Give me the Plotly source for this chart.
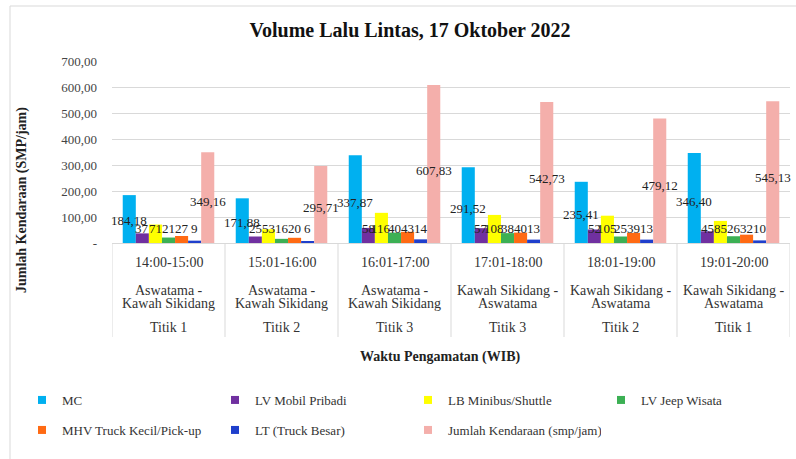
import plotly.graph_objects as go

# ---- data ----
time_labels = ["14:00-15:00", "15:01-16:00", "16:01-17:00", "17:01-18:00", "18:01-19:00", "19:01-20:00"]
route_line1 = ["Aswatama -", "Aswatama -", "Aswatama -", "Kawah Sikidang -", "Kawah Sikidang -", "Kawah Sikidang -"]
route_line2 = ["Kawah Sikidang", "Kawah Sikidang", "Kawah Sikidang", "Aswatama", "Aswatama", "Aswatama"]
titik_labels = ["Titik 1", "Titik 2", "Titik 3", "Titik 3", "Titik 2", "Titik 1"]

mc = [184.18, 171.88, 337.87, 291.52, 235.41, 346.40]
lv_mobil = [37, 25, 58, 57, 52, 45]
lb_minibus = [71, 53, 116, 108, 105, 85]
lv_jeep = [21, 16, 40, 38, 25, 26]
mhv_truck = [27, 20, 43, 40, 39, 32]
lt_truck = [9, 6, 14, 13, 13, 10]
jumlah = [349.16, 295.71, 607.83, 542.73, 479.12, 545.13]

y_ticks = [0, 100, 200, 300, 400, 500, 600, 700]

series_names = ["MC", "LV Mobil Pribadi", "LB Minibus/Shuttle", "LV Jeep Wisata",
                "MHV Truck Kecil/Pick-up", "LT (Truck Besar)", "Jumlah Kendaraan (smp/jam)"]
series_vals = [mc, lv_mobil, lb_minibus, lv_jeep, mhv_truck, lt_truck, jumlah]
colors = ["#00B0F0", "#7030A0", "#FFFF00", "#3CB054", "#FF6A13", "#1F3FCC", "#F4AFAB"]
legend_slots = ["legend", "legend", "legend", "legend3", "legend2", "legend2", "legend2"]

FONT = "Liberation Serif"
W, H = 796, 459
L, R, T, B = 112, 6, 61, 216
pw = W - L - R
ph = H - T - B

def px_x(px):
    return (px - L) / pw

def px_y(py):
    return (H - B - py) / ph

def fmt(v):
    return ("%.2f" % v).replace(".", ",")

x_idx = list(range(len(time_labels)))
bargap = 0.19
nser = len(series_names)
bw = (1 - bargap) / nser

fig = go.Figure()
annotations = []
for i, (name, vals, col) in enumerate(zip(series_names, series_vals, colors)):
    big = name in ("MC", "Jumlah Kendaraan (smp/jam)")
    fig.add_trace(go.Bar(x=x_idx, y=vals, name=name, showlegend=False,
                         marker=dict(color=col, line=dict(width=0))))
    # legend entry (small square)
    fig.add_trace(go.Scatter(x=[None], y=[None], mode="markers", name=name,
                             marker=dict(symbol="square", size=8, color=col),
                             legend=legend_slots[i]))
    for k, v in zip(x_idx, vals):
        xc = k + (i - (nser - 1) / 2) * bw
        if big:
            annotations.append(dict(x=xc, y=v * 0.46, xref="x", yref="y", text=fmt(v),
                                    showarrow=False, font=dict(family=FONT, size=13, color="#222")))
        else:
            annotations.append(dict(x=xc, y=0, xref="x", yref="y", text=str(int(v)),
                                    yanchor="bottom", yshift=5, showarrow=False,
                                    font=dict(family=FONT, size=13, color="#222")))

shapes = []
for k in range(len(time_labels) + 1):
    shapes.append(dict(type="line", xref="x", yref="paper", x0=k - 0.5, x1=k - 0.5,
                       y0=0, y1=px_y(337), line=dict(color="#D9D9D9", width=1)))
shapes.append(dict(type="line", xref="paper", yref="paper", x0=px_x(10), x1=px_x(10),
                   y0=px_y(6), y1=px_y(470), line=dict(color="#D9D9D9", width=1)))
shapes.append(dict(type="line", xref="paper", yref="paper", x0=px_x(10), x1=px_x(800),
                   y0=px_y(6), y1=px_y(6), line=dict(color="#D9D9D9", width=1)))

cat_font = dict(family=FONT, size=14, color="#333")
for k in x_idx:
    for text, ypx in ((time_labels[k], 262), (route_line1[k], 290), (route_line2[k], 303), (titik_labels[k], 327)):
        annotations.append(dict(x=k, y=px_y(ypx), xref="x", yref="paper", text=text,
                                yanchor="middle", showarrow=False, font=cat_font))
annotations.append(dict(x=px_x(440), y=px_y(357), xref="paper", yref="paper",
                        text="<b>Waktu Pengamatan (WIB)</b>", showarrow=False, yanchor="middle",
                        font=dict(family=FONT, size=14, color="#222")))
annotations.append(dict(x=px_x(22), y=px_y(200), xref="paper", yref="paper",
                        text="<b>Jumlah Kendaraan (SMP/jam)</b>", showarrow=False, textangle=-90,
                        xanchor="center", yanchor="middle",
                        font=dict(family=FONT, size=14, color="#222")))

leg_common = dict(orientation="h", xanchor="left", yanchor="middle",
                  xref="container", yref="container",
                  entrywidth=148, entrywidthmode="pixels", itemwidth=30,
                  font=dict(family=FONT, size=13, color="#333"), bgcolor="rgba(0,0,0,0)")

fig.update_layout(
    width=W, height=H,
    margin=dict(l=L, r=R, t=T, b=B, autoexpand=False),
    paper_bgcolor="white", plot_bgcolor="white",
    barmode="group", bargap=bargap, bargroupgap=0,
    font=dict(family=FONT, size=13, color="#333"),
    title=dict(text="<b>Volume Lalu Lintas, 17 Oktober 2022</b>", xref="container", x=410 / W,
               xanchor="center", yref="container", y=1 - 30 / H, yanchor="middle",
               font=dict(family=FONT, size=20, color="#111")),
    xaxis=dict(range=[-0.5, len(time_labels) - 0.5], showticklabels=False, showgrid=False,
               zeroline=False, showline=True, linecolor="#D9D9D9", linewidth=1, ticks=""),
    yaxis=dict(range=[0, 700], tickvals=y_ticks,
               ticktext=["-"] + [fmt(v) for v in y_ticks[1:]],
               showgrid=True, gridcolor="#D9D9D9", gridwidth=1, zeroline=False,
               showline=False, ticks="", ticklabelstandoff=14,
               tickfont=dict(family=FONT, size=13, color="#444")),
    legend=dict(x=22 / W, y=1 - 400 / H, **leg_common),
    legend3=dict(x=601 / W, y=1 - 400 / H, **leg_common),
    legend2=dict(x=22 / W, y=1 - 430 / H, **leg_common),
    shapes=shapes, annotations=annotations,
)

fig.write_html("out.html", config={"displayModeBar": False},
               post_script="document.body.style.margin='0';document.body.style.overflow='hidden';")
